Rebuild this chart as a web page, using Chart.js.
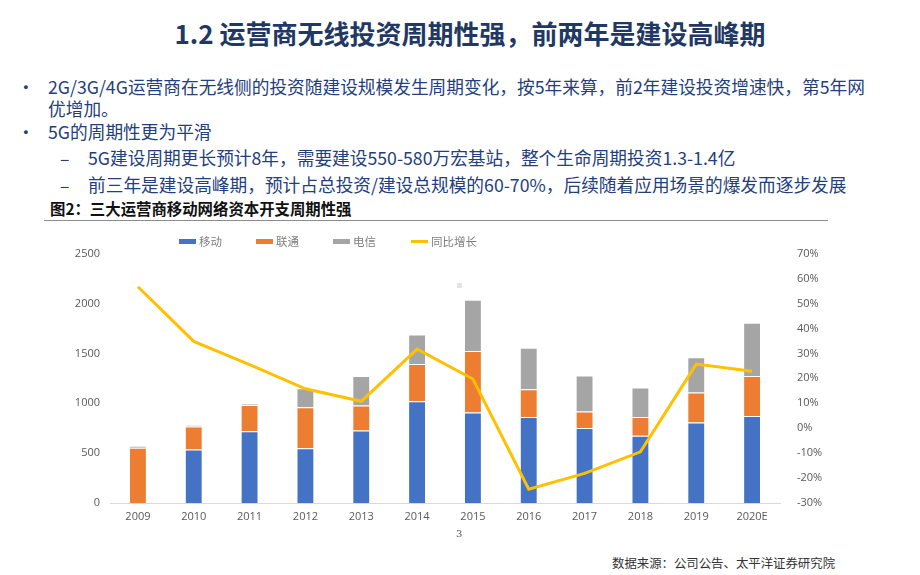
<!DOCTYPE html>
<html>
<head>
<meta charset="utf-8">
<script src="https://cdn.jsdelivr.net/npm/chart.js"></script>
<style>
  body { margin: 0; width: 920px; height: 575px; background: #fff; position: relative; overflow: hidden;
         font-family: "Noto Sans CJK SC", "Noto Sans", sans-serif; }
  .abs { position: absolute; white-space: nowrap; }
  #title { left: 0; width: 940px; top: 14px; text-align: center; font-size: 26px; font-weight: bold; color: #1f3864; }
  .txt { font-size: 17.7px; color: #24407c; line-height: 22px; }
  #caption { left: 50px; top: 197px; font-size: 15.4px; font-weight: bold; color: #111; }
  #capline { left: 44px; top: 220px; width: 784px; height: 1px; background: #8c8c8c; }
  #legend { left: 0; top: 232px; height: 18px; }
  .lg { position: absolute; top: 0; font-size: 11.5px; color: #7f7f7f; line-height: 18px; }
  .lg i { display: inline-block; width: 17px; height: 5px; vertical-align: middle; margin-right: 3px; margin-top: -2px; }
  #wrap { left: 60px; top: 230px; width: 790px; height: 300px; }
  #dot { left: 457px; top: 283px; width: 5px; height: 5px; background: #e4e4e4; }
  #page { left: 456px; top: 528px; font-size: 10px; color: #555; font-family: "DejaVu Serif", serif; }
  #source { left: 612px; top: 554px; font-size: 12.4px; color: #333; }
</style>
</head>
<body>
<div id="title" class="abs">1.2 运营商无线投资周期性强，前两年是建设高峰期</div>

<div class="abs txt" style="left:17px; top:75px;">•</div>
<div class="abs txt" style="left:48px; top:75px;">2G/3G/4G运营商在无线侧的投资随建设规模发生周期变化，按5年来算，前2年建设投资增速快，第5年网</div>
<div class="abs txt" style="left:48px; top:97px;">优增加。</div>
<div class="abs txt" style="left:17px; top:120px;">•</div>
<div class="abs txt" style="left:48px; top:120px;">5G的周期性更为平滑</div>
<div class="abs txt" style="left:60px; top:146px;">–</div>
<div class="abs txt" style="left:88px; top:146px;">5G建设周期更长预计8年，需要建设550-580万宏基站，整个生命周期投资1.3-1.4亿</div>
<div class="abs txt" style="left:60px; top:173px;">–</div>
<div class="abs txt" style="left:88px; top:173px;">前三年是建设高峰期，预计占总投资/建设总规模的60-70%，后续随着应用场景的爆发而逐步发展</div>

<div id="caption" class="abs">图2：三大运营商移动网络资本开支周期性强</div>
<div id="capline" class="abs"></div>

<div id="wrap" class="abs"><canvas id="capexChart"></canvas></div>
<div id="legend" class="abs"></div>
<div id="dot" class="abs"></div>

<div id="page" class="abs">3</div>
<div id="source" class="abs">数据来源：公司公告、太平洋证券研究院</div>

<script>
// ================= DATA =================
const years = ["2009","2010","2011","2012","2013","2014","2015","2016","2017","2018","2019","2020E"];
const mobile  = [0, 537, 720, 548, 727, 1020, 907, 863, 753, 673, 807, 873];     // 移动
const unicom  = [555, 230, 263, 412, 250, 373, 616, 277, 164, 190, 300, 400];    // 联通
const telecom = [18, 13, 10, 190, 296, 297, 514, 417, 360, 294, 353, 534];       // 电信
const growth  = [56.7, 34.8, 25.5, 15.8, 10.8, 31.7, 19.7, -24.5, -18.1, -9.5, 25.7, 22.8]; // 同比增长 %
const seriesNames = ["移动", "联通", "电信", "同比增长"];
const leftTicks = [0, 500, 1000, 1500, 2000, 2500];
const rightTicks = [-30, -20, -10, 0, 10, 20, 30, 40, 50, 60, 70];

// ================= STYLE =================
const colors = ["#4472c4", "#ed7d31", "#a5a5a5", "#ffc000"];
const tickColor = "#595959";
const tickFont = { family: "'Open Sans', 'Noto Sans', sans-serif", size: 11 };

// ================= LEGEND =================
const legendEl = document.getElementById("legend");
const legendLeft = [179, 256, 333, 411];
seriesNames.forEach((name, i) => {
  const h = i === 3 ? 3 : 5;
  legendEl.innerHTML += `<span class="lg" style="left:${legendLeft[i]}px"><i style="background:${colors[i]};height:${h}px"></i>${name}</span>`;
});

// ================= CHART =================
const barBase = { type: "bar", yAxisID: "y", stack: "capex", categoryPercentage: 1, barPercentage: 0.32,
                  borderColor: "rgba(255,255,255,0.5)", borderWidth: 1, order: 2 };

new Chart(document.getElementById("capexChart"), {
  data: {
    labels: years,
    datasets: [
      { ...barBase, label: seriesNames[0], data: mobile, backgroundColor: colors[0] },
      { ...barBase, label: seriesNames[1], data: unicom, backgroundColor: colors[1] },
      { ...barBase, label: seriesNames[2], data: telecom, backgroundColor: colors[2] },
      {
        type: "line", label: seriesNames[3], data: growth, yAxisID: "y1",
        borderColor: colors[3], backgroundColor: colors[3], borderWidth: 3,
        pointRadius: 0, tension: 0, order: 1
      }
    ]
  },
  options: {
    responsive: true,
    maintainAspectRatio: false,
    animation: false,
    layout: { padding: { top: 3, left: 0, right: 0, bottom: 0 } },
    plugins: { legend: { display: false }, tooltip: { enabled: false } },
    scales: {
      x: {
        stacked: true,
        grid: { display: false, drawTicks: false },
        border: { display: true, color: "#d9d9d9", width: 1 },
        ticks: { color: tickColor, font: tickFont, padding: 7, maxRotation: 0 },
        afterFit: s => { s.height = 27; }
      },
      y: {
        stacked: true, position: "left", min: 0, max: 2500,
        grid: { display: false, drawTicks: false },
        border: { display: false },
        afterBuildTicks: s => { s.ticks = leftTicks.map(v => ({ value: v })); },
        ticks: { color: tickColor, font: tickFont, padding: 10, callback: v => String(v) },
        afterFit: s => { s.width = 50; }
      },
      y1: {
        position: "right", min: -30, max: 70,
        grid: { display: false, drawTicks: false },
        border: { display: false },
        afterBuildTicks: s => { s.ticks = rightTicks.map(v => ({ value: v })); },
        ticks: { color: tickColor, font: tickFont, padding: 17, callback: v => v + "%" },
        afterFit: s => { s.width = 70; }
      }
    }
  }
});
</script>
</body>
</html>
